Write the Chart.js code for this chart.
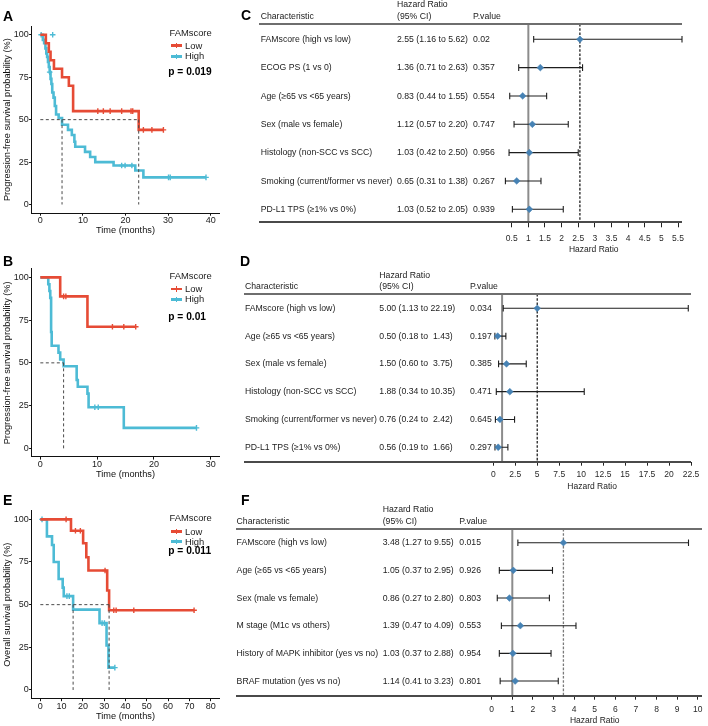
<!DOCTYPE html>
<html><head><meta charset="utf-8">
<script src="https://cdn.jsdelivr.net/npm/chart.js@4.4.1/dist/chart.umd.min.js"></script>
<style>
html,body{margin:0;padding:0;background:#fff}
#root{position:relative;width:708px;height:726px;overflow:hidden;font-family:"Liberation Sans",Arial,Helvetica,sans-serif;color:#1a1a1a}
#root canvas{position:absolute}
.t{position:absolute;white-space:pre;line-height:1.2}
.r{position:absolute}
</style></head><body><div id="root"></div>
<script>
// ===================== DATA =====================
const survTicks = [0, 25, 50, 75, 100];
const timeTicksA = [0, 10, 20, 30, 40];
const timeTicksB = [0, 10, 20, 30];
const timeTicksE = [0, 10, 20, 30, 40, 50, 60, 70, 80];
const groupNames = ['Low', 'High'];
const legendTitle = 'FAMscore';

// Panel A (PFS)
const aLowTime = [0, 1.3, 2.0, 2.4, 3.2, 5.1, 6.7, 7.7, 23.1, 28.9];
const aLowSurv = [100, 95, 90, 85, 80, 75, 70, 55, 44, 44];
const aLowCensTime = [13.5, 14.8, 16.4, 19.1, 21.3, 21.7, 24.2, 26.2, 28.9];
const aLowCensSurv = [55, 55, 55, 55, 55, 55, 44, 44, 44];
const aHighTime = [0, 0.6, 0.9, 1.2, 1.4, 1.6, 1.8, 2.0, 2.2, 2.4, 2.6, 2.8, 3.1, 3.4, 3.7, 4.3, 5.1, 6.5, 7.4, 8.0, 8.2, 10.5, 11.7, 12.9, 17.2, 22.3, 24.2, 38.9];
const aHighSurv = [100, 97, 95, 92, 89, 87, 84, 81, 78, 74, 71, 66, 63, 58, 53, 51, 47, 44, 41, 37, 34, 31, 28, 25, 23, 20, 16, 16];
const aHighCensTime = [0.2, 2.9, 2.2, 19.1, 19.9, 21.5, 30.1, 30.5, 38.9];
const aHighCensSurv = [100, 100, 78, 23, 23, 23, 16, 16, 16];
const aMedians = [5.1, 23.1];
const aPValue = 'p = 0.019';

// Panel B (PFS)
const bLowTime = [0, 3.5, 8.3, 16.8];
const bLowSurv = [100, 88.9, 71.1, 71.1];
const bLowCensTime = [4.1, 4.5, 12.7, 14.7, 16.8];
const bLowCensSurv = [88.9, 88.9, 71.1, 71.1, 71.1];
const bHighTime = [0, 1.4, 1.6, 1.75, 1.9, 2.0, 3.2, 3.5, 4.1, 6.4, 6.6, 8.3, 8.5, 14.7, 27.5];
const bHighSurv = [100, 96, 92, 88, 68, 60, 56, 52, 48, 40, 36, 32, 24, 12, 12];
const bHighCensTime = [9.6, 10.2, 27.5];
const bHighCensSurv = [24, 24, 12];
const bMedians = [4.1];
const bPValue = 'p = 0.01';

// Panel E (OS)
const eLowTime = [0, 14.4, 20.1, 21.6, 22.6, 31.4, 32.3, 72.2];
const eLowSurv = [100, 93.3, 86, 77.8, 70, 58.3, 46.7, 46.7];
const eLowCensTime = [12.1, 16.5, 18.8, 30.4, 34.5, 35.6, 43.9, 72.2];
const eLowCensSurv = [100, 93.3, 93.3, 70, 46.7, 46.7, 46.7, 46.7];
const eHighTime = [0, 3.1, 5.5, 6.3, 8.6, 10.5, 11.0, 15.4, 27.8, 31.1, 32.0, 35.0];
const eHighSurv = [100, 90, 85, 75, 65, 60, 55, 47.1, 39.2, 26.1, 13.1, 13.1];
const eHighCensTime = [0.8, 12.5, 13.6, 29.0, 30.1, 35.0];
const eHighCensSurv = [100, 55, 55, 39.2, 39.2, 13.1];
const eMedians = [15.4, 32.3];
const ePValue = 'p = 0.011';

// Panel C (forest)
const cLabels = ['FAMscore (high vs low)', 'ECOG PS (1 vs 0)', 'Age (\u226565 vs <65 years)', 'Sex (male vs female)', 'Histology (non-SCC vs SCC)', 'Smoking (current/former vs never)', 'PD-L1 TPS (\u22651% vs 0%)'];
const cHR = [2.55, 1.36, 0.83, 1.12, 1.03, 0.65, 1.03];
const cLow = [1.16, 0.71, 0.44, 0.57, 0.42, 0.31, 0.52];
const cHigh = [5.62, 2.63, 1.55, 2.20, 2.50, 1.38, 2.05];
const cP = ['0.02', '0.357', '0.554', '0.747', '0.956', '0.267', '0.939'];
const cTicks = [0.5, 1, 1.5, 2, 2.5, 3, 3.5, 4, 4.5, 5, 5.5];

// Panel D (forest)
const dLabels = ['FAMscore (high vs low)', 'Age (\u226565 vs <65 years)', 'Sex (male vs female)', 'Histology (non-SCC vs SCC)', 'Smoking (current/former vs never)', 'PD-L1 TPS (\u22651% vs 0%)'];
const dHR = [5.00, 0.50, 1.50, 1.88, 0.76, 0.56];
const dLow = [1.13, 0.18, 0.60, 0.34, 0.24, 0.19];
const dHigh = [22.19, 1.43, 3.75, 10.35, 2.42, 1.66];
const dP = ['0.034', '0.197', '0.385', '0.471', '0.645', '0.297'];
const dTicks = [0, 2.5, 5, 7.5, 10, 12.5, 15, 17.5, 20, 22.5];

// Panel F (forest)
const fLabels = ['FAMscore (high vs low)', 'Age (\u226565 vs <65 years)', 'Sex (male vs female)', 'M stage (M1c vs others)', 'History of MAPK inhibitor (yes vs no)', 'BRAF mutation (yes vs no)'];
const fHR = [3.48, 1.05, 0.86, 1.39, 1.03, 1.14];
const fLow = [1.27, 0.37, 0.27, 0.47, 0.37, 0.41];
const fHigh = [9.55, 2.95, 2.80, 4.09, 2.88, 3.23];
const fP = ['0.015', '0.926', '0.803', '0.553', '0.954', '0.801'];
const fTicks = [0, 1, 2, 3, 4, 5, 6, 7, 8, 9, 10];

// ===================== RENDERING =====================
const FONT = '"Liberation Sans", Arial, Helvetica, sans-serif';
Chart.defaults.font.family = FONT;
Chart.defaults.animation = false;
const root = document.getElementById('root');
const RED = '#E64B35', CYAN = '#4DBBD5';
const KM_TICK = 9, KM_TITLE = 9.2, LEG = 9.4;

function mkCanvas(x, y, w, h) {
  const c = document.createElement('canvas');
  c.width = w; c.height = h;
  c.style.left = x + 'px'; c.style.top = y + 'px';
  c.style.width = w + 'px'; c.style.height = h + 'px';
  root.appendChild(c);
  return c;
}
function txt(x, cy, s, size, o = {}) {
  const d = document.createElement('div');
  d.className = 't';
  d.textContent = s;
  d.style.fontSize = size + 'px';
  d.style.left = x + 'px';
  d.style.top = (cy - size * (o.k || 0.62)) + 'px';
  if (o.bold) d.style.fontWeight = 'bold';
  if (o.color) d.style.color = o.color;
  root.appendChild(d);
  return d;
}
function rule(x, y, w, h, color) {
  const d = document.createElement('div');
  d.className = 'r';
  d.style.left = x + 'px'; d.style.top = y + 'px';
  d.style.width = w + 'px'; d.style.height = h + 'px';
  d.style.background = color;
  root.appendChild(d);
}
function pts(xs, ys) { return xs.map((v, i) => ({ x: v, y: ys[i] })); }

function km(cfg) {
  const L = cfg.layout;
  const canvasH = Math.ceil(L.plotBottom + 24 - L.top);
  const canvasW = 226;
  const axisH = L.top + canvasH - L.plotBottom;
  const titleLH = KM_TITLE * 1.2;
  const titlePadB = (L.top + canvasH) - (L.plotBottom + 17.6) - titleLH / 2;
  const ds = [];
  const dash = { showLine: true, borderColor: '#4a4a4a', borderWidth: 1, borderDash: [3, 2.5], pointRadius: 0, fill: false };
  const mMax = Math.max(...cfg.medians);
  ds.push(Object.assign({ data: [{ x: 0, y: 50 }, { x: mMax, y: 50 }] }, dash));
  cfg.medians.forEach(m => ds.push(Object.assign({ data: [{ x: m, y: 50 }, { x: m, y: 0 }] }, dash)));
  cfg.groups.forEach(g => {
    ds.push({ data: pts(g.cTime, g.cSurv), showLine: false, pointStyle: 'cross', pointRadius: 2.8, borderWidth: 1.4, borderColor: g.color, backgroundColor: g.color });
    ds.push({ data: pts(g.time, g.surv), showLine: true, stepped: true, borderColor: g.color, borderWidth: 2.6, pointRadius: 0, fill: false, borderJoinStyle: 'miter' });
  });
  const axisCommon = {
    type: 'linear',
    grid: { display: true, drawOnChartArea: false, drawTicks: true, tickLength: 2.7, color: '#111', lineWidth: 1 },
    border: { display: true, color: '#111', width: 1 },
    ticks: { font: { size: KM_TICK, lineHeight: 1 }, color: '#1a1a1a', padding: 0.4, autoSkip: false, maxRotation: 0, callback: v => String(v) }
  };
  new Chart(mkCanvas(0, L.top, canvasW, canvasH), {
    type: 'scatter',
    data: { datasets: ds },
    options: {
      responsive: false, animation: false, devicePixelRatio: 1,
      layout: { padding: { left: 0, top: L.plotTop - L.top, right: canvasW - L.plotRight, bottom: 0 } },
      plugins: { legend: { display: false }, tooltip: { enabled: false } },
      scales: {
        x: Object.assign({}, axisCommon, {
          min: cfg.xMin, max: cfg.xMax,
          afterBuildTicks: s => { s.ticks = cfg.xTicks.map(v => ({ value: v })); },
          afterFit: s => { s.height = axisH; },
          title: { display: true, text: 'Time (months)', font: { size: KM_TITLE, lineHeight: 1.2 }, color: '#111', padding: { top: 0, bottom: titlePadB } }
        }),
        y: Object.assign({}, axisCommon, {
          min: -5, max: 105,
          afterBuildTicks: s => { s.ticks = survTicks.map(v => ({ value: v })); },
          afterFit: s => { s.width = L.plotLeft; },
          title: { display: true, text: cfg.yTitle, font: { size: KM_TITLE, lineHeight: 1.2 }, color: '#111', padding: { top: 1.6, bottom: 0 } }
        })
      }
    }
  });
  // panel letter
  txt(3, L.letterY, cfg.letter, 14, { bold: true, k: 0.59, color: '#000' });
  // legend
  const G = cfg.legend;
  txt(169.5, G.titleY, legendTitle, LEG);
  cfg.groups.forEach((g, i) => {
    const cy = G.keyY[i];
    rule(171, cy - 1.3, 11, 2.6, g.color);
    rule(175.8, cy - 2.8, 1.4, 5.6, g.color);
    txt(185, cy, g.name, LEG);
  });
  txt(168.3, G.pY, cfg.p, 10.2, { bold: true, k: 0.6, color: '#000' });
}

km({
  letter: 'A', yTitle: 'Progression-free survival probability (%)',
  xMin: -2, xMax: 42, xTicks: timeTicksA, medians: aMedians, p: aPValue,
  layout: { top: 0, plotTop: 26.3, plotBottom: 213.0, plotLeft: 31.8, plotRight: 219.2, letterY: 16.5 },
  legend: { titleY: 33.3, keyY: [45.6, 56.3], pY: 72.5 },
  groups: [
    { name: groupNames[0], color: RED, time: aLowTime, surv: aLowSurv, cTime: aLowCensTime, cSurv: aLowCensSurv },
    { name: groupNames[1], color: CYAN, time: aHighTime, surv: aHighSurv, cTime: aHighCensTime, cSurv: aHighCensSurv }
  ]
});
km({
  letter: 'B', yTitle: 'Progression-free survival probability (%)',
  xMin: -1.5, xMax: 31.5, xTicks: timeTicksB, medians: bMedians, p: bPValue,
  layout: { top: 240, plotTop: 268.8, plotBottom: 456.9, plotLeft: 31.8, plotRight: 219.2, letterY: 261.7 },
  legend: { titleY: 275.7, keyY: [289.0, 299.3], pY: 316.7 },
  groups: [
    { name: groupNames[0], color: RED, time: bLowTime, surv: bLowSurv, cTime: bLowCensTime, cSurv: bLowCensSurv },
    { name: groupNames[1], color: CYAN, time: bHighTime, surv: bHighSurv, cTime: bHighCensTime, cSurv: bHighCensSurv }
  ]
});
km({
  letter: 'E', yTitle: 'Overall survival probability (%)',
  xMin: -4, xMax: 84, xTicks: timeTicksE, medians: eMedians, p: ePValue,
  layout: { top: 480, plotTop: 510.8, plotBottom: 698.5, plotLeft: 31.8, plotRight: 219.2, letterY: 500 },
  legend: { titleY: 518.3, keyY: [531.5, 541.5], pY: 551 },
  groups: [
    { name: groupNames[0], color: RED, time: eLowTime, surv: eLowSurv, cTime: eLowCensTime, cSurv: eLowCensSurv },
    { name: groupNames[1], color: CYAN, time: eHighTime, surv: eHighSurv, cTime: eHighCensTime, cSurv: eHighCensSurv }
  ]
});

function ciText(hr, lo, hi, w) {
  return hr.toFixed(2) + ' (' + lo.toFixed(2) + ' to ' + hi.toFixed(2).padStart(w) + ')';
}

function forest(cfg) {
  const L = cfg.layout;
  const cLeft = 470, cW = 708 - cLeft;
  const canvasH = Math.ceil(L.axisY + L.titleOff + 6 - L.top);
  const axisH = L.top + canvasH - L.axisY;
  const titlePadB = (L.top + canvasH) - (L.axisY + L.titleOff) - 8.5 / 2;
  const n = cfg.hr.length;
  const ciPlugin = {
    id: 'ci' + cfg.letter,
    beforeDatasetsDraw(chart) {
      const { ctx, chartArea: a, scales: { x, y } } = chart;
      ctx.save();
      const x1 = x.getPixelForValue(1);
      ctx.strokeStyle = '#8c8c8c'; ctx.lineWidth = 2;
      ctx.beginPath(); ctx.moveTo(x1, a.top); ctx.lineTo(x1, a.bottom); ctx.stroke();
      const xd = x.getPixelForValue(cfg.hr[0]);
      ctx.strokeStyle = cfg.dashColor; ctx.lineWidth = 1.3; ctx.setLineDash([2.6, 1.6]);
      ctx.beginPath(); ctx.moveTo(xd, a.top); ctx.lineTo(xd, a.bottom); ctx.stroke();
      ctx.setLineDash([]);
      ctx.strokeStyle = '#1e1e1e'; ctx.lineWidth = 1.1;
      for (let i = 0; i < n; i++) {
        const yy = y.getPixelForValue(i);
        const xl = x.getPixelForValue(cfg.lo[i]), xh = x.getPixelForValue(cfg.hi[i]);
        ctx.beginPath();
        ctx.moveTo(xl, yy); ctx.lineTo(xh, yy);
        ctx.moveTo(xl, yy - 3.3); ctx.lineTo(xl, yy + 3.3);
        ctx.moveTo(xh, yy - 3.3); ctx.lineTo(xh, yy + 3.3);
        ctx.stroke();
      }
      ctx.restore();
    }
  };
  const chart = new Chart(mkCanvas(cLeft, L.top, cW, canvasH), {
    type: 'scatter',
    data: { datasets: [{ data: cfg.hr.map((v, i) => ({ x: v, y: i })), pointStyle: 'rectRot', pointRadius: 3.4, borderWidth: 0.5, backgroundColor: '#4682B4', borderColor: '#4682B4' }] },
    plugins: [ciPlugin],
    options: {
      responsive: false, animation: false, devicePixelRatio: 1,
      layout: { padding: { left: L.plotLeft - cLeft, right: 708 - L.plotRight, top: L.headRule - L.top, bottom: 0 } },
      plugins: { legend: { display: false }, tooltip: { enabled: false } },
      scales: {
        x: {
          type: 'linear', min: cfg.xMin, max: cfg.xMax,
          afterBuildTicks: s => { s.ticks = cfg.ticks.map(v => ({ value: v })); },
          afterFit: s => { s.height = axisH; },
          grid: { display: true, drawOnChartArea: false, drawTicks: true, tickLength: L.tickLen, color: '#222', lineWidth: 1 },
          border: { display: false },
          ticks: { font: { size: 8.5, lineHeight: 1 }, color: '#2a2a2a', padding: L.tickPad, autoSkip: false, maxRotation: 0, callback: v => String(v) },
          title: { display: true, text: 'Hazard Ratio', font: { size: 8.5, lineHeight: 1 }, color: '#222', padding: { top: 0, bottom: titlePadB } }
        },
        y: { type: 'linear', display: false, reverse: true, min: L.yMin, max: L.yMax }
      }
    }
  });
  // table
  const FS = 8.7, col = '#222';
  txt(L.letterX, L.letterY, cfg.letter, 14, { bold: true, k: 0.59, color: '#000' });
  txt(L.hrX, L.head1Y, 'Hazard Ratio', FS, { color: col });
  txt(L.charX, L.head2Y, 'Characteristic', FS, { color: col });
  txt(L.hrX, L.head2Y, '(95% CI)', FS, { color: col });
  txt(L.pX, L.head2Y, 'P.value', FS, { color: col });
  rule(L.ruleX, L.headRule - 1, L.plotRight - L.ruleX, 2, '#6e6e6e');
  rule(L.ruleX, L.axisY - 1, L.plotRight - L.ruleX, 2, '#4a4a4a');
  const w = Math.max(...cfg.hi.map(v => v.toFixed(2).length));
  const ys = chart.scales.y;
  for (let i = 0; i < n; i++) {
    const cy = L.top + ys.getPixelForValue(i);
    txt(L.charX, cy, cfg.labels[i], FS, { color: col });
    txt(L.hrX, cy, ciText(cfg.hr[i], cfg.lo[i], cfg.hi[i], w), FS, { color: col });
    txt(L.pX, cy, cfg.p[i], FS, { color: col });
  }
}

forest({
  letter: 'C', labels: cLabels, hr: cHR, lo: cLow, hi: cHigh, p: cP, ticks: cTicks,
  xMin: 0.31, xMax: 5.62, dashColor: '#222',
  layout: { top: 0, headRule: 24, axisY: 222.3, plotLeft: 505.4, plotRight: 682, yMin: -0.54, yMax: 6.46,
    tickLen: 5, tickPad: 7.5, titleOff: 27.3, charX: 260.7, hrX: 397, pX: 473, ruleX: 259,
    head1Y: 4.8, head2Y: 16, letterX: 241, letterY: 15.5 }
});
forest({
  letter: 'D', labels: dLabels, hr: dHR, lo: dLow, hi: dHigh, p: dP, ticks: dTicks,
  xMin: 0, xMax: 22.5, dashColor: '#222',
  layout: { top: 262, headRule: 294, axisY: 461.7, plotLeft: 493.3, plotRight: 691, yMin: -0.515, yMax: 5.52,
    tickLen: 4, tickPad: 5, titleOff: 24.5, charX: 245, hrX: 379.3, pX: 470, ruleX: 244,
    head1Y: 275, head2Y: 286.7, letterX: 240, letterY: 261.7 }
});
forest({
  letter: 'F', labels: fLabels, hr: fHR, lo: fLow, hi: fHigh, p: fP, ticks: fTicks,
  xMin: 0, xMax: 10, dashColor: '#7a7a7a',
  layout: { top: 490, headRule: 529, axisY: 695.7, plotLeft: 491.7, plotRight: 701.7, yMin: -0.495, yMax: 5.53,
    tickLen: 4, tickPad: 5.5, titleOff: 24.5, charX: 236.6, hrX: 382.7, pX: 459.3, ruleX: 235.5,
    head1Y: 509.3, head2Y: 521.7, letterX: 241, letterY: 500 }
});
</script></body></html>
